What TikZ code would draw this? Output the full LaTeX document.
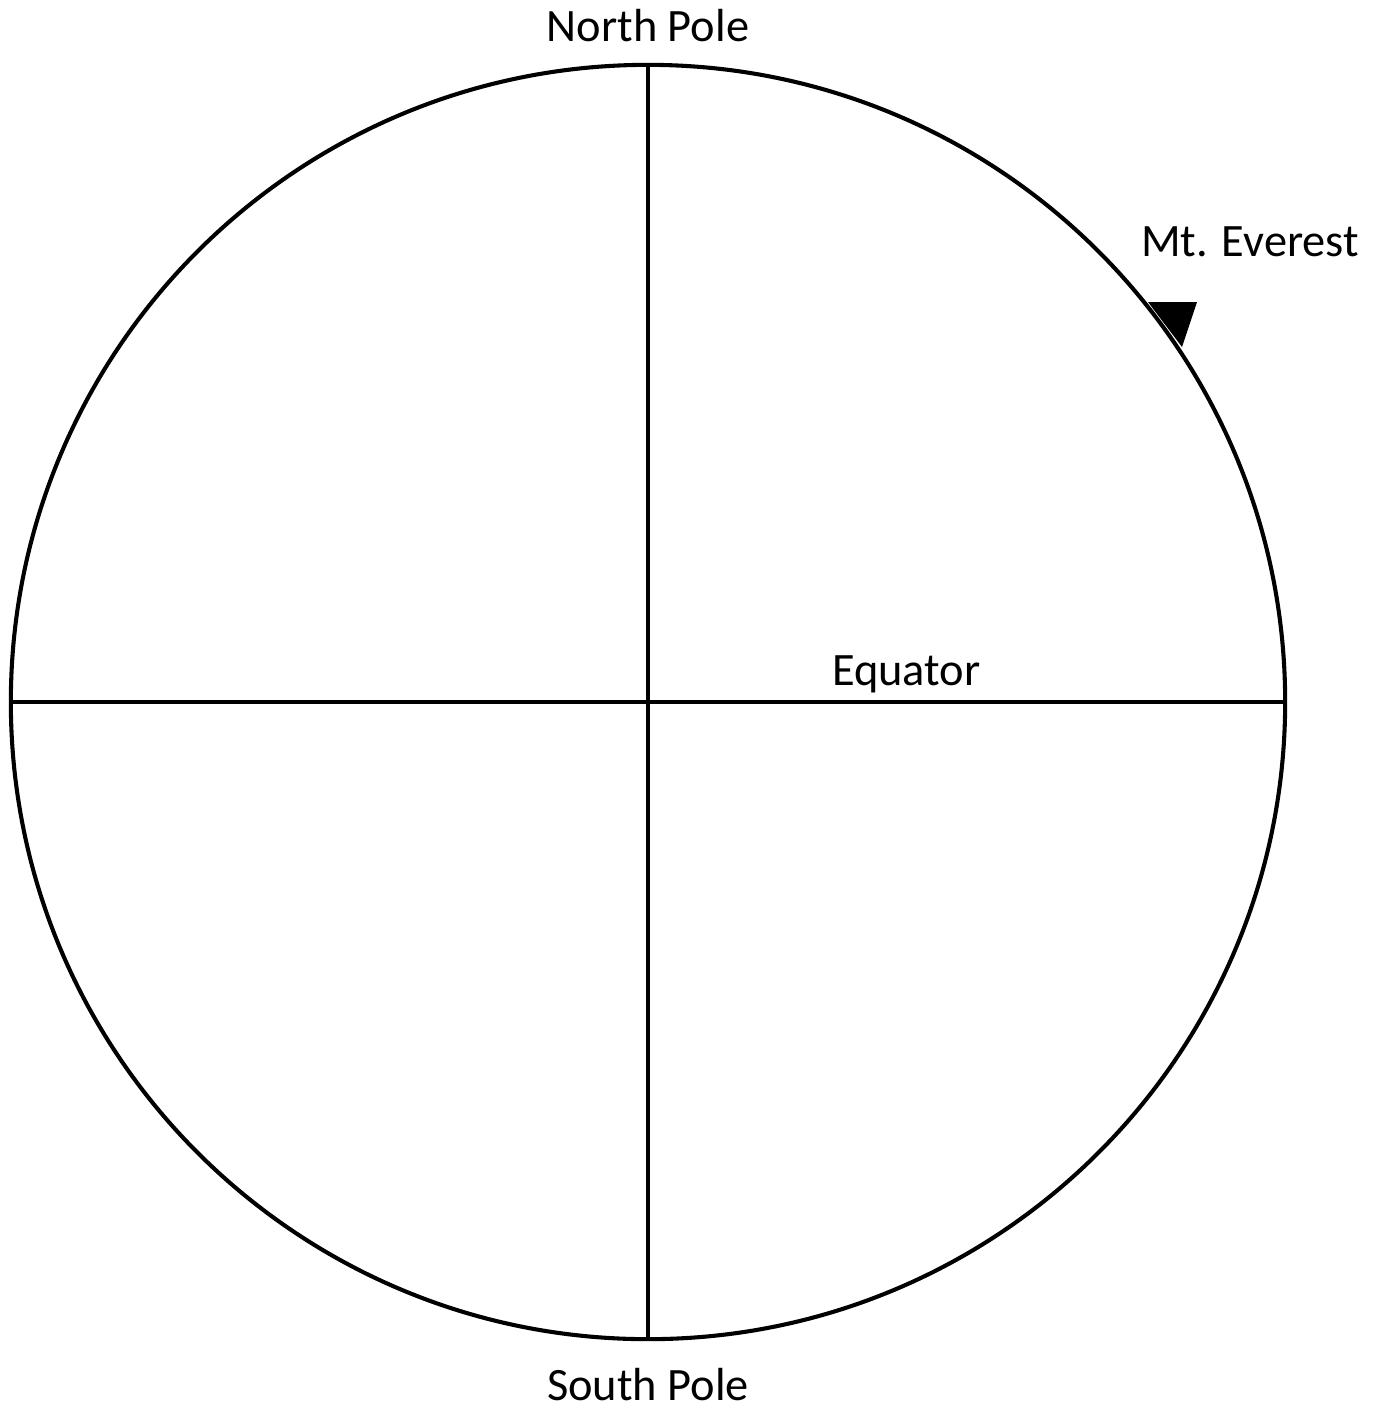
\documentclass[tikz,border=0pt]{standalone}
\usepackage{fontspec}
\setmainfont{Carlito}
\usepackage{tikz}
\usetikzlibrary{positioning}

\begin{document}
\begin{tikzpicture}[
  x=0.025cm,
  y=-0.025cm,
  line width=2.9pt,
  every node/.style={font=\fontsize{33}{40}\selectfont, inner sep=0pt, outer sep=0pt},
  globe/.style={circle, draw, minimum size=31.85cm}]

% --- Page frame (pixel grid of the reference) ---
\useasboundingbox (0,0) rectangle (1382,1410);

% --- The earth and its two diameters ---
\node[globe] (earth) at (648,702) {};
\draw (earth.north) -- (earth.south);
\draw (earth.west) -- (earth.east);

% --- Mountain marker on the rim ---
\coordinate (peakL) at (1148,302);
\coordinate (peakR) at (1197,302);
\coordinate (peakB) at (1182,347);
\fill (peakL) -- (peakR) -- (peakB) -- cycle;

% --- Labels ---
\node[anchor=base] (north) at (648,41) {North Pole};
\node[anchor=base] (south) at (648,1400) {South Pole};
\node[anchor=base west] (equator) at (832,685) {Equator};
\node[anchor=base west] (everest) at (1141,256) {Mt. Everest};

\end{tikzpicture}
\end{document}
